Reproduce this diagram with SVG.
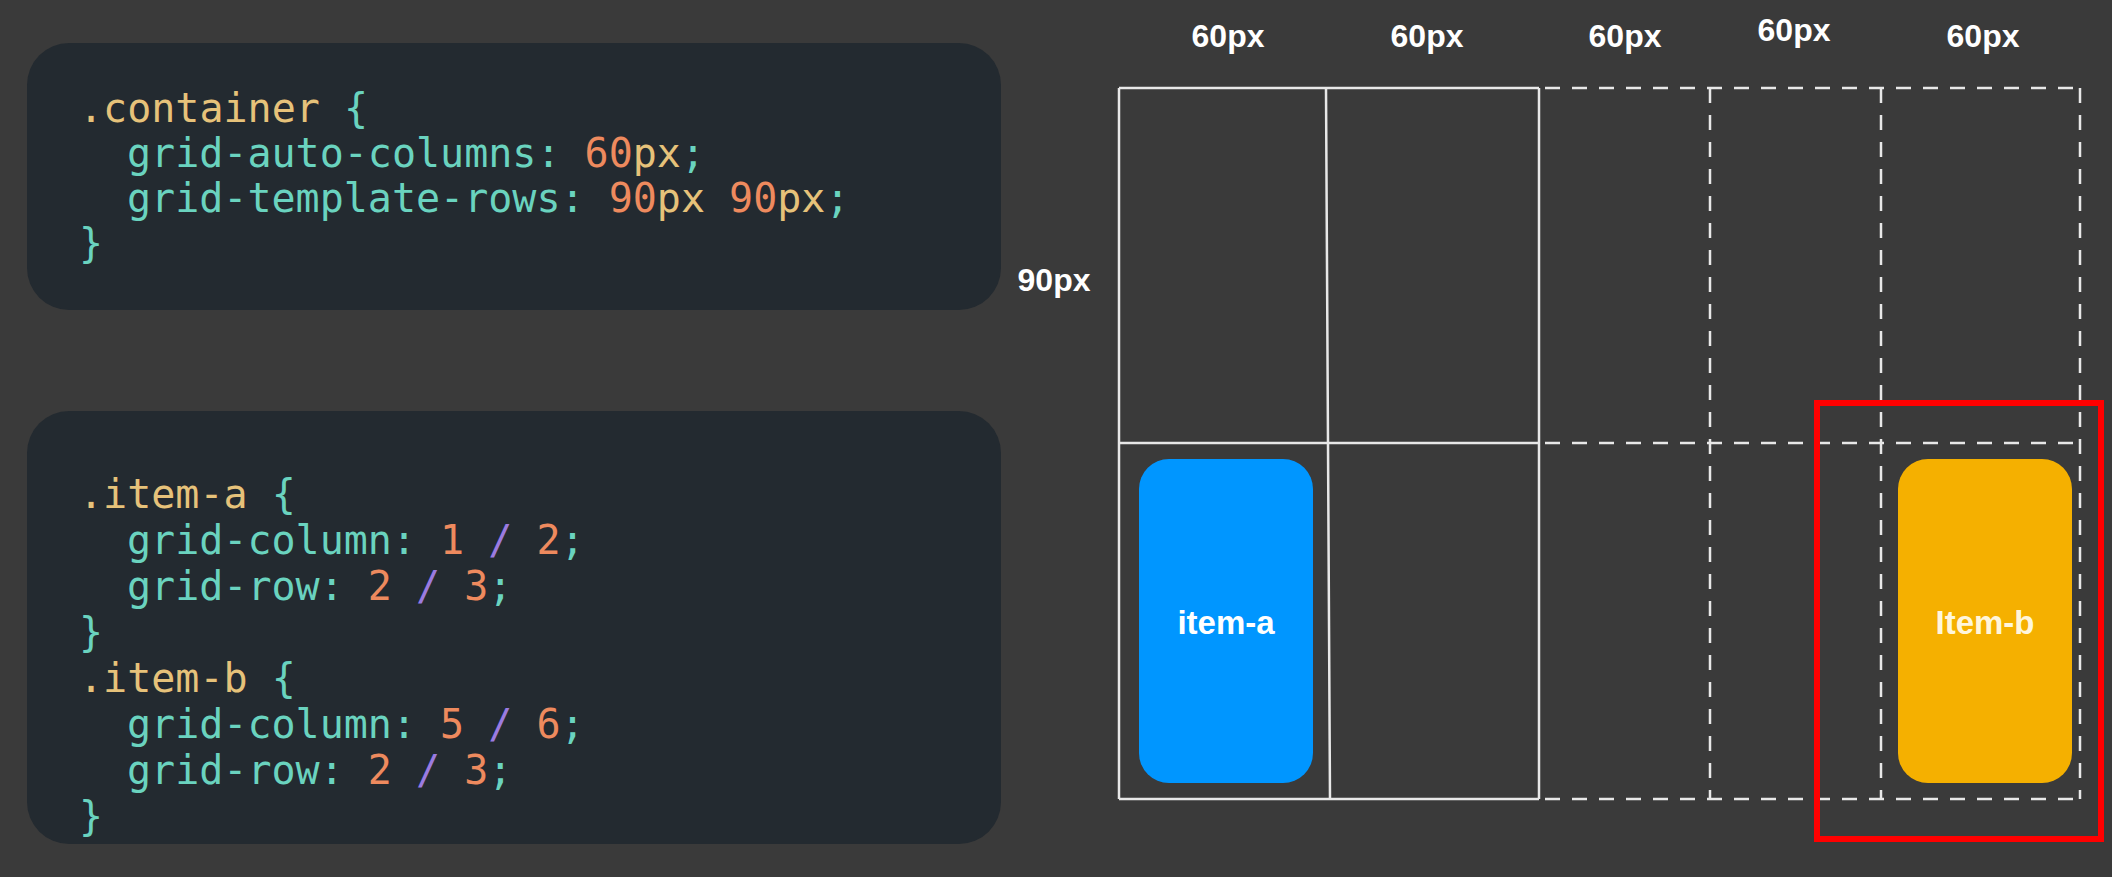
<svg xmlns="http://www.w3.org/2000/svg" width="2112" height="877" viewBox="0 0 2112 877">
<style>
.code{font-family:"DejaVu Sans Mono","Liberation Mono",monospace;font-size:40px;fill:#6ad3bf;white-space:pre}
.sel{fill:#e6c27a}
.num{fill:#ee8a5e}
.px{fill:#e6c27a}
.sl{fill:#9b7be0}
.lbl{font-family:"Liberation Sans",Arial,sans-serif;font-size:32px;font-weight:bold;fill:#ffffff;text-anchor:middle}
.solid{stroke:#e8e8e8;stroke-width:2.5;fill:none}
.dash{stroke:#e8e8e8;stroke-width:2.5;fill:none;stroke-dasharray:15 12}
</style>
<rect x="0" y="0" width="2112" height="877" fill="#3a3a3a"/>

<g id="code-container">
<rect x="27" y="43" width="974" height="267" rx="42" fill="#232a30"/>
<text class="code" x="79" y="122"><tspan class="sel">.container</tspan> {</text>
<text class="code" x="127" y="167">grid-auto-columns: <tspan class="num">60</tspan><tspan class="px">px</tspan>;</text>
<text class="code" x="127" y="212">grid-template-rows: <tspan class="num">90</tspan><tspan class="px">px</tspan> <tspan class="num">90</tspan><tspan class="px">px</tspan>;</text>
<text class="code" x="79" y="257">}</text>
</g>

<g id="code-items">
<rect x="27" y="411" width="974" height="433" rx="42" fill="#232a30"/>
<text class="code" x="79" y="508"><tspan class="sel">.item-a</tspan> {</text>
<text class="code" x="127" y="554">grid-column: <tspan class="num">1</tspan> <tspan class="sl">/</tspan> <tspan class="num">2</tspan>;</text>
<text class="code" x="127" y="600">grid-row: <tspan class="num">2</tspan> <tspan class="sl">/</tspan> <tspan class="num">3</tspan>;</text>
<text class="code" x="79" y="646">}</text>
<text class="code" x="79" y="692"><tspan class="sel">.item-b</tspan> {</text>
<text class="code" x="127" y="738">grid-column: <tspan class="num">5</tspan> <tspan class="sl">/</tspan> <tspan class="num">6</tspan>;</text>
<text class="code" x="127" y="784">grid-row: <tspan class="num">2</tspan> <tspan class="sl">/</tspan> <tspan class="num">3</tspan>;</text>
<text class="code" x="79" y="830">}</text>
</g>

<g id="labels">
<text class="lbl" x="1228" y="47">60px</text>
<text class="lbl" x="1427" y="47">60px</text>
<text class="lbl" x="1625" y="47">60px</text>
<text class="lbl" x="1794" y="41">60px</text>
<text class="lbl" x="1983" y="47">60px</text>
<text class="lbl" x="1054" y="291">90px</text>
</g>

<g id="grid">
<path class="solid" d="M1119 88 H1539 M1119 443 H1539 M1119 799 H1539 M1119 88 V799 M1326 88 L1330 799 M1539 88 V799"/>
<path class="dash" d="M1545 88 H2080 M1545 443 H2080 M1545 799 H2080 M1710 88 V799 M1881 88 V799 M2080 88 V799"/>
</g>

<g id="item-a">
<rect x="1139" y="459" width="174" height="324" rx="30" fill="#0096ff"/>
<text class="lbl" x="1226" y="634" style="font-size:33px">item-a</text>
</g>

<g id="item-b">
<rect x="1898" y="459" width="174" height="324" rx="30" fill="#f5b000"/>
<text class="lbl" x="1985" y="634" style="font-size:33px;fill:#fff6dc">Item-b</text>
</g>

<g id="highlight">
<rect x="1817" y="403" width="284" height="436" fill="none" stroke="#ff0000" stroke-width="6"/>
</g>
</svg>
